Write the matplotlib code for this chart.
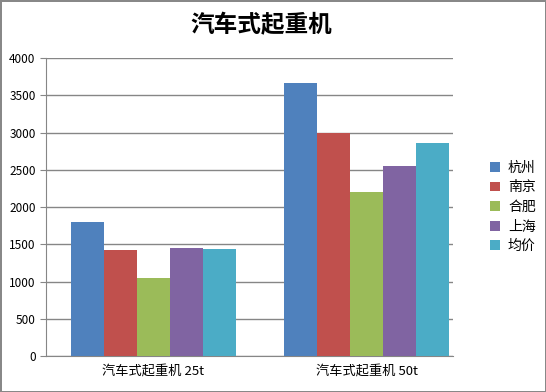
import numpy as np
import matplotlib.pyplot as plt

plt.rcParams['font.family'] = ['Noto Sans CJK SC', 'DejaVu Sans']

categories = ['汽车式起重机 25t', '汽车式起重机 50t']
cities = ['杭州', '南京', '合肥', '上海', '均价']
values = {
    '杭州': [1800, 3665],
    '南京': [1425, 3000],
    '合肥': [1050, 2200],
    '上海': [1450, 2553],
    '均价': [1438, 2860],
}
colors = ['#4f81bd', '#c0504d', '#9bbb59', '#8064a2', '#4bacc6']

fig = plt.figure(figsize=(5.46, 3.92), dpi=100)
fig.patch.set_edgecolor('#888888')
fig.patch.set_linewidth(2)
ax = fig.add_axes([0.0842, 0.0918, 0.7455, 0.7602])

x = np.arange(len(categories))
group_w = 0.773
w = group_w / len(cities)
for i, c in enumerate(cities):
    ax.bar(x - group_w / 2 + w * (i + 0.5), values[c], width=w, color=colors[i], label=c, zorder=3)

ax.set_xlim(-0.503, 1.403)
ax.set_ylim(0, 4000)
ax.set_yticks(range(0, 4001, 500))
ax.yaxis.grid(True, color='#868686', linewidth=1, zorder=0)
ax.set_xticks(x)
ax.set_xticklabels(categories, fontsize=9.5)
ax.tick_params(axis='x', length=0, pad=6)
ax.tick_params(axis='y', labelsize=8.5, length=4, color='#868686', direction='out')
for s in ['top', 'right']:
    ax.spines[s].set_visible(False)
for s in ['left', 'bottom']:
    ax.spines[s].set_color('#868686')

fig.text(0.478, 0.935, '汽车式起重机', fontsize=17, fontweight='bold', ha='center', va='center')

ax.legend(loc='center left', bbox_to_anchor=(1.06, 0.5), frameon=False,
          fontsize=10, handlelength=0.7, handleheight=0.7, handletextpad=0.6,
          labelspacing=0.4)

fig.savefig('out.png', dpi=100, edgecolor=fig.get_edgecolor())
